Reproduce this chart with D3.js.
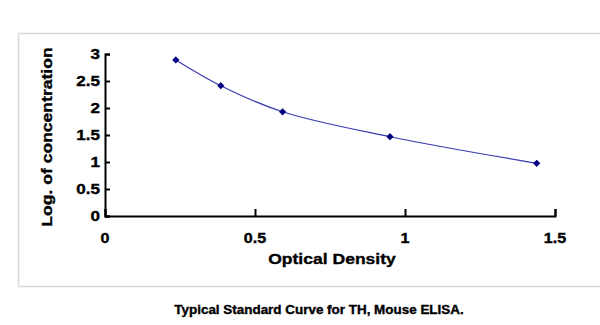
<!DOCTYPE html>
<html>
<head>
<meta charset="utf-8">
<script src="https://cdn.jsdelivr.net/npm/d3@7"></script>
<style>
  html, body { margin: 0; padding: 0; background: #fff; }
  svg { display: block; }
  text { font-family: "Liberation Sans", Arial, sans-serif; font-weight: bold; fill: #000; stroke: #000; stroke-width: 0.35px; }
</style>
</head>
<body>
<svg id="chart" width="600" height="325"></svg>
<script>
// ---- data ----
const opticalDensity = [0.236, 0.386, 0.592, 0.950, 1.439];
const logConcentration = [2.89, 2.413, 1.93, 1.468, 0.976];
const xTicks = [0, 0.5, 1, 1.5];
const yTicks = [0, 0.5, 1, 1.5, 2, 2.5, 3];
const xTickLabels = ["0", "0.5", "1", "1.5"];
const yTickLabels = ["0", "0.5", "1", "1.5", "2", "2.5", "3"];
const xTitle = "Optical Density";
const yTitle = "Log. of concentration";
const caption = "Typical Standard Curve for TH, Mouse ELISA.";

const svg = d3.select("#chart");
const SX = 1.17; // horizontal stretch of glyphs

// outer frame
svg.append("rect")
  .attr("x", 18.5).attr("y", 33.5)
  .attr("width", 620).attr("height", 253)
  .attr("fill", "none").attr("stroke", "#d9d9d9").attr("stroke-width", 1.5);

const x = d3.scaleLinear().domain([0, 1.5]).range([105, 555]);
const y = d3.scaleLinear().domain([0, 3]).range([216, 54]);

function label(txt, px, py, size, anchor, rot, sx) {
  const t = svg.append("text")
    .attr("transform", `translate(${px},${py})` + (rot ? ` rotate(${rot})` : "") + ` scale(${sx || SX},1)`)
    .attr("text-anchor", anchor)
    .style("font-size", size + "px")
    .text(txt);
  return t;
}

// axes
const yAxis = d3.axisLeft(y).tickValues(yTicks).tickSize(-5).tickFormat("");
const xAxis = d3.axisBottom(x).tickValues(xTicks).tickSize(-7).tickFormat("");

const gy = svg.append("g").attr("transform", `translate(${x(0)},0)`).call(yAxis);
const gx = svg.append("g").attr("transform", `translate(0,${y(0)})`).call(xAxis);
[gx, gy].forEach(g => {
  g.selectAll("path, line").attr("stroke", "#000").attr("stroke-width", 2);
});

// tick labels
yTicks.forEach((v, i) => label(yTickLabels[i], 100, y(v) + 5, 14, "end", 0, 1.22));
xTicks.forEach((v, i) => label(xTickLabels[i], x(v), 242.5, 14, "middle", 0, 1.15));

// titles
label(xTitle, 332, 264, 15, "middle");
label(yTitle, 52, 137, 15, "middle", -90);
label(caption, 319, 314, 12, "middle", 0, 1.12);

// curve
const pts = opticalDensity.map((d, i) => [x(d), y(logConcentration[i])]);
svg.append("path")
  .attr("d", d3.line().curve(d3.curveCatmullRom.alpha(0.5))(pts))
  .attr("fill", "none")
  .attr("stroke", "#3a3ab0")
  .attr("stroke-width", 1.2);

// markers
const sym = d3.symbol().type(d3.symbolSquare).size(26);
svg.selectAll("path.mk").data(pts).enter().append("path")
  .attr("class", "mk")
  .attr("d", sym)
  .attr("transform", d => `translate(${d[0]},${d[1]}) rotate(45)`)
  .attr("fill", "#000080");
</script>
</body>
</html>
